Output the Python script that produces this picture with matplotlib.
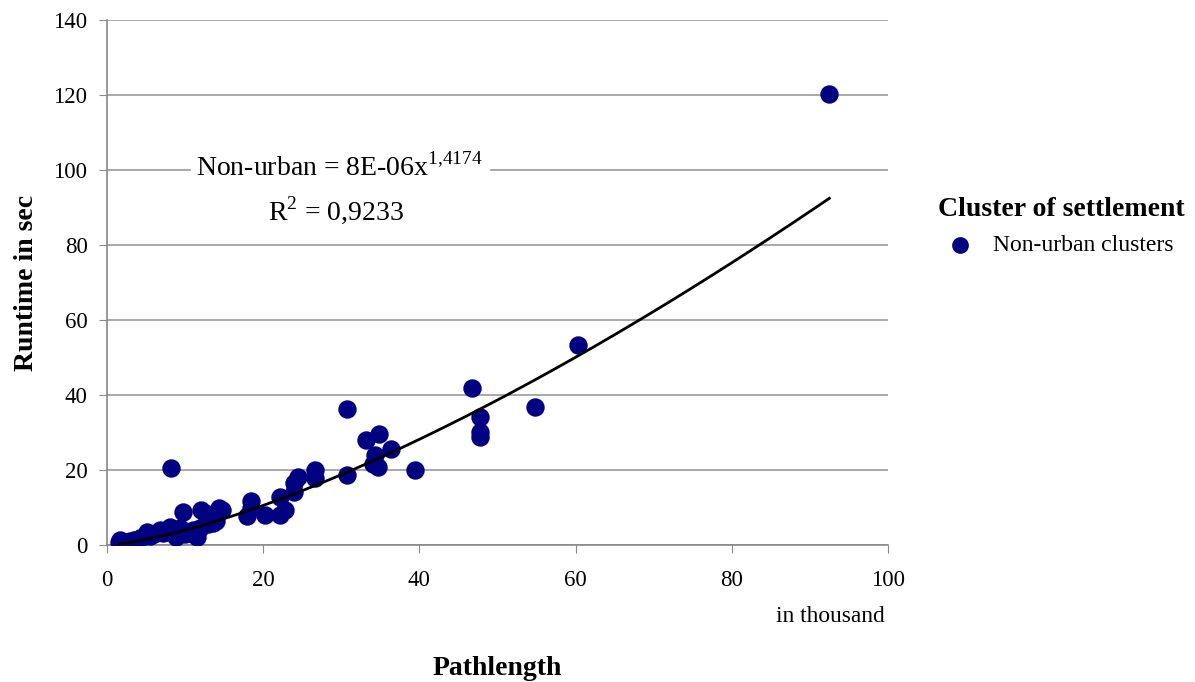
import numpy as np
import matplotlib.pyplot as plt

plt.rcParams['font.family'] = ['Liberation Serif', 'DejaVu Serif']
plt.rcParams['mathtext.fontset'] = 'custom'
plt.rcParams['mathtext.rm'] = 'Liberation Serif'

# pathlength in thousand, runtime in sec
pathlength = [1.5, 1.7, 2.0, 2.5, 3.0, 3.4, 4.0, 4.5, 5.1, 5.5, 6.0, 6.8, 7.2, 7.5,
              8.1, 8.2, 8.5, 8.9, 9.3, 9.8, 10.0, 10.6, 11.0, 11.5, 11.9, 12.1, 12.5,
              13.0, 13.6, 14.0, 14.3, 14.7, 17.9, 18.5, 18.5, 20.2, 22.2, 22.2, 22.8,
              23.9, 24.0, 24.4, 26.6, 26.6, 30.8, 30.8, 33.2, 34.1, 34.3, 34.7, 34.9,
              36.4, 39.5, 46.8, 47.8, 47.8, 47.8, 54.8, 60.3, 92.5]
runtime = [0.8, 1.3, 0.6, 0.9, 1.0, 1.3, 1.5, 2.0, 3.5, 2.5, 3.0, 4.0, 3.2, 3.5,
           4.9, 20.5, 3.8, 2.2, 4.5, 8.9, 3.0, 3.2, 4.0, 2.2, 4.5, 9.3, 8.5,
           5.5, 5.9, 6.5, 9.8, 9.3, 7.6, 11.6, 9.8, 8.0, 12.9, 8.0, 9.3,
           14.2, 16.4, 18.2, 20.0, 17.8, 36.2, 18.7, 28.0, 21.6, 24.0, 20.9, 29.6,
           25.5, 20.0, 41.8, 34.2, 30.2, 28.9, 36.7, 53.3, 120.3]

# power trendline  y = a * (1000 x)^b
trend_a = 8.45e-6
trend_b = 1.4174

navy = '#000080'
fig = plt.figure(figsize=(11.95, 6.82), dpi=100)
ax = fig.add_axes([0.0895, 0.2009, 0.6535, 0.7698])

ax.scatter(pathlength, runtime, s=150, color=navy, zorder=3, label='Non-urban clusters')
xs = np.linspace(min(pathlength), max(pathlength), 200)
ax.plot(xs, trend_a * (xs * 1000) ** trend_b, color='black', lw=2, zorder=4)

ax.set_xlim(0, 100)
ax.set_ylim(0, 140)
ax.set_xticks(range(0, 101, 20))
ax.set_yticks(range(0, 141, 20))
ax.grid(axis='y', color='#999999', lw=1.2)
ax.set_axisbelow(True)
for s in ['top', 'right']:
    ax.spines[s].set_visible(False)
for s in ['left', 'bottom']:
    ax.spines[s].set_color('#888888')
    ax.spines[s].set_linewidth(1.2)
ax.tick_params(direction='out', length=6, color='#888888', labelsize=16.5)
ax.tick_params(axis='x', pad=12)
ax.tick_params(axis='y', pad=8)

ax.set_ylabel('Runtime in sec', fontsize=20, fontweight='bold', labelpad=10)
fig.text(0.416, 0.01, 'Pathlength', fontsize=20, fontweight='bold', ha='center')
fig.text(0.695, 0.088, 'in thousand', fontsize=16.8, ha='center')

ax.text(29.8, 100.7, 'Non-urban = 8E-06x$^{\\mathrm{1{,}4174}}$', fontsize=20, ha='center',
        va='center', backgroundcolor='white', zorder=5)
ax.text(29.3, 89.3, 'R$^{\\mathrm{2}}$ = 0,9233', fontsize=20, ha='center', va='center', zorder=5)

leg = ax.legend(loc='upper left', bbox_to_anchor=(1.052, 0.68), frameon=False,
                title='Cluster of settlement', fontsize=17, markerscale=0.9,
                handlelength=1.0, handletextpad=0.9, borderaxespad=0)
leg.get_title().set_fontsize(20)
leg.get_title().set_fontweight('bold')

fig.savefig('out.png', dpi=100)
